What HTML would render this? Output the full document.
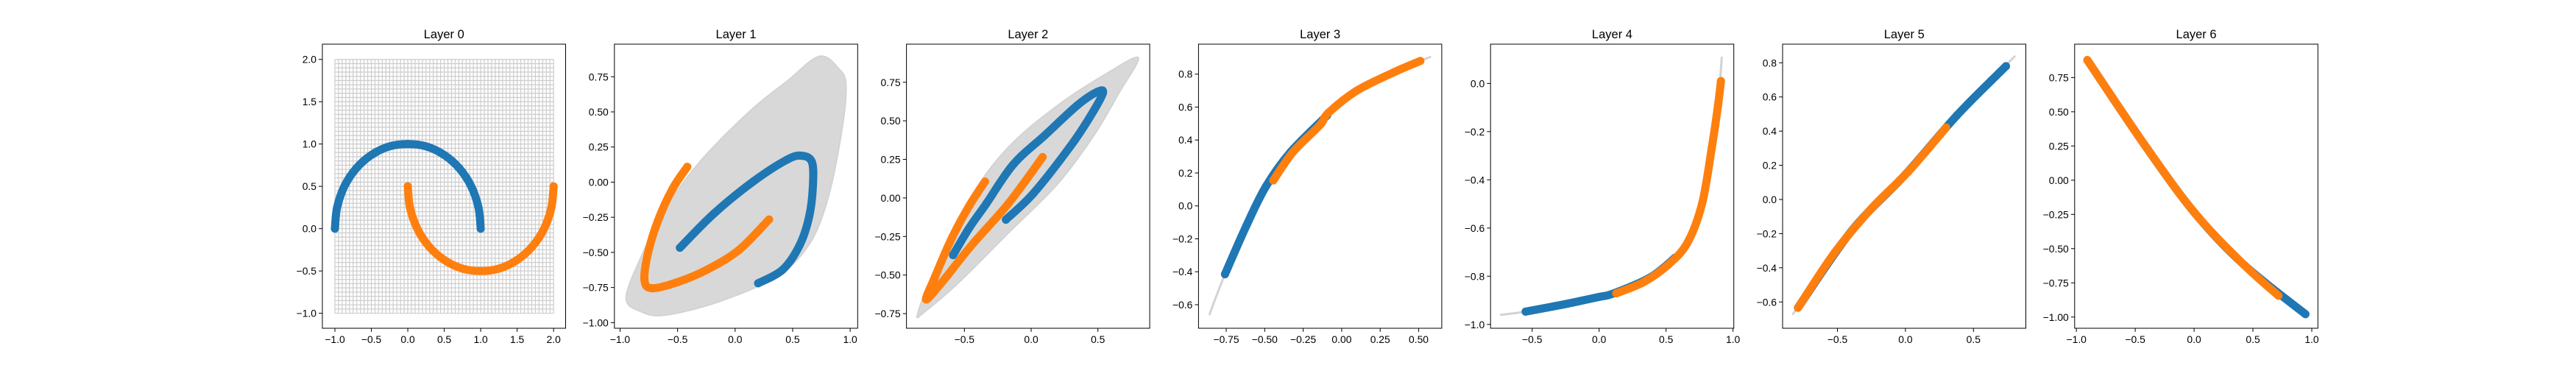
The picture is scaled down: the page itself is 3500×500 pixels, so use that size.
<!DOCTYPE html>
<html><head><meta charset="utf-8"><style>
html,body{margin:0;padding:0;background:#fff;}
svg{display:block;font-family:"Liberation Sans","DejaVu Sans",sans-serif;}
</style></head><body>
<svg id="fig" width="3500" height="500" viewBox="0 0 3500 500" xmlns="http://www.w3.org/2000/svg"></svg>
<script>
// ---- data ----
const l0Blue=[[-1,0],[-0.97,0.25],[-0.87,0.5],[-0.71,0.71],[-0.5,0.87],[-0.26,0.97],[0,1],[0.26,0.97],[0.5,0.87],[0.71,0.71],[0.87,0.5],[0.97,0.25],[1,0]];
const l0Orange=[[0,0.5],[0.03,0.25],[0.13,0],[0.29,-0.21],[0.5,-0.37],[0.74,-0.47],[1,-0.5],[1.26,-0.47],[1.5,-0.37],[1.71,-0.21],[1.87,0],[1.97,0.25],[2,0.5]];
const l1Gray=[[0.73,0.895],[0.9,0.808],[0.964,0.685],[0.921,0.336],[0.794,-0.153],[0.624,-0.467],[0.348,-0.677],[-0.14,-0.851],[-0.607,-0.947],[-0.82,-0.921],[-0.947,-0.825],[-0.82,-0.537],[-0.607,-0.188],[-0.289,0.161],[0.136,0.511],[0.454,0.72]];
const l1Blue=[[-0.48,-0.467],[-0.183,-0.223],[0.157,0.004],[0.454,0.161],[0.582,0.188],[0.667,0.144],[0.677,-0.013],[0.645,-0.24],[0.56,-0.45],[0.412,-0.624],[0.2,-0.72]];
const l1Orange=[[-0.416,0.109],[-0.544,-0.048],[-0.671,-0.275],[-0.756,-0.502],[-0.788,-0.694],[-0.724,-0.755],[-0.501,-0.712],[-0.246,-0.624],[0.03,-0.485],[0.295,-0.266]];
const l2Gray=[[0.803,0.909],[0.564,0.806],[0.197,0.599],[-0.171,0.329],[-0.447,0.01],[-0.722,-0.467],[-0.851,-0.753],[-0.796,-0.737],[-0.539,-0.546],[-0.171,-0.228],[0.197,0.09],[0.472,0.408],[0.656,0.678]];
const l2Blue=[[-0.189,-0.141],[0.013,0.026],[0.289,0.329],[0.436,0.519],[0.537,0.678],[0.491,0.686],[0.344,0.599],[0.105,0.408],[-0.134,0.217],[-0.336,-0.037],[-0.465,-0.196],[-0.585,-0.371]];
const l2Orange=[[-0.346,0.106],[-0.465,-0.053],[-0.594,-0.26],[-0.722,-0.515],[-0.787,-0.658],[-0.667,-0.546],[-0.447,-0.308],[-0.171,-0.037],[0.086,0.265]];
const l3Gray=[[-0.858,-0.657],[-0.758,-0.415],[-0.619,-0.12],[-0.492,0.118],[-0.333,0.326],[-0.094,0.55],[0.097,0.699],[0.336,0.81],[0.511,0.88],[0.575,0.904]];
const l3Blue=[[-0.758,-0.415],[-0.619,-0.12],[-0.492,0.118],[-0.333,0.326],[-0.094,0.55]];
const l3Orange=[[-0.444,0.155],[-0.317,0.326],[-0.142,0.49],[-0.086,0.565],[0.097,0.699],[0.336,0.81],[0.511,0.88]];
const l4Gray=[[-0.733,-0.96],[-0.549,-0.947],[-0.256,-0.916],[0,-0.886],[0.385,-0.804],[0.659,-0.662],[0.769,-0.499],[0.842,-0.265],[0.888,-0.092],[0.916,0.107]];
const l4Blue=[[-0.549,-0.947],[-0.256,-0.916],[0,-0.886],[0.11,-0.871],[0.385,-0.804],[0.568,-0.723]];
const l4Orange=[[0.128,-0.871],[0.33,-0.825],[0.513,-0.754],[0.659,-0.662],[0.769,-0.499],[0.842,-0.265],[0.888,-0.092],[0.91,0.01]];
const l5Gray=[[-0.826,-0.67],[-0.394,-0.182],[0.002,0.148],[0.379,0.493],[0.802,0.837]];
const l5Blue=[[-0.79,-0.634],[-0.394,-0.182],[0.002,0.148],[0.379,0.493],[0.739,0.78]];
const l5Orange=[[-0.79,-0.634],[-0.52,-0.311],[-0.25,-0.053],[0.02,0.162],[0.299,0.421]];
const l6Gray=[[-0.92,0.9],[-0.407,0.241],[0.009,-0.243],[0.426,-0.62],[0.96,-0.99]];
const l6Blue=[[-0.906,0.877],[-0.407,0.241],[0.009,-0.243],[0.426,-0.62],[0.946,-0.979]];
const l6Orange=[[-0.906,0.877],[-0.407,0.241],[0.009,-0.243],[0.426,-0.62],[0.717,-0.844]];
const xTicks=[[-1,-0.5,0,0.5,1,1.5,2],[-1,-0.5,0,0.5,1],[-0.5,0,0.5],[-0.75,-0.5,-0.25,0,0.25,0.5],[-0.5,0,0.5,1],[-0.5,0,0.5],[-1,-0.5,0,0.5,1]];
const yTicks=[[-1,-0.5,0,0.5,1,1.5,2],[-1,-0.75,-0.5,-0.25,0,0.25,0.5,0.75],[-0.75,-0.5,-0.25,0,0.25,0.5,0.75],[-0.6,-0.4,-0.2,0,0.2,0.4,0.6,0.8],[-1,-0.8,-0.6,-0.4,-0.2,0],[-0.6,-0.4,-0.2,0,0.2,0.4,0.6,0.8],[-1,-0.75,-0.5,-0.25,0,0.25,0.5,0.75]];
const xDec=[1,1,1,2,1,1,1];
const yDec=[1,2,2,1,1,1,2];
const xLims=[[-1.172,2.165],[-1.049,1.065],[-0.934,0.888],[-0.93,0.65],[-0.811,1.006],[-0.903,0.885],[-1.015,1.052]];
const yLims=[[-1.177,2.18],[-1.04,0.982],[-0.845,0.997],[-0.743,0.982],[-1.016,0.163],[-0.754,0.909],[-1.082,0.994]];
const grays=[null,l1Gray,l2Gray,l3Gray,l4Gray,l5Gray,l6Gray];
const grayFill=[false,true,true,false,false,false,false];
const blues=[l0Blue,l1Blue,l2Blue,l3Blue,l4Blue,l5Blue,l6Blue];
const oranges=[l0Orange,l1Orange,l2Orange,l3Orange,l4Orange,l5Orange,l6Orange];

// ---- drawing ----
const NS='http://www.w3.org/2000/svg';
const svg=document.getElementById('fig');
function mk(tag,attrs,parent){const e=document.createElementNS(NS,tag);for(const k in attrs)e.setAttribute(k,attrs[k]);(parent||svg).appendChild(e);return e;}
function fmt(v,d){const s=Math.abs(v).toFixed(d);return (v<0?'\u2212':'')+s;}
// Catmull-Rom smoothing of pixel points into a path
function smooth(P,closed){
  const n=P.length;const get=k=>closed?P[(k+n)%n]:P[Math.max(0,Math.min(n-1,k))];
  let d='M'+P[0][0].toFixed(1)+','+P[0][1].toFixed(1);
  const segs=closed?n:n-1;
  for(let k=0;k<segs;k++){
    const p0=get(k-1),p1=get(k),p2=get(k+1),p3=get(k+2);
    const c1=[p1[0]+(p2[0]-p0[0])/6,p1[1]+(p2[1]-p0[1])/6];
    const c2=[p2[0]-(p3[0]-p1[0])/6,p2[1]-(p3[1]-p1[1])/6];
    d+='C'+c1[0].toFixed(1)+','+c1[1].toFixed(1)+' '+c2[0].toFixed(1)+','+c2[1].toFixed(1)+' '+p2[0].toFixed(1)+','+p2[1].toFixed(1);
  }
  return d+(closed?'Z':'');
}
const TOP=60,BOT=446,W=330.5;
for(let i=0;i<7;i++){
  const L=438+i*396.8;
  const g=mk('g',{});
  
  
  const sx=v=>L+(v-xLims[i][0])/(xLims[i][1]-xLims[i][0])*W;
  const sy=v=>BOT-(v-yLims[i][0])/(yLims[i][1]-yLims[i][0])*(BOT-TOP);
  const px=a=>a.map(p=>[sx(p[0]),sy(p[1])]);
  if(i===0){
    const gg=mk('g',{stroke:'#cfcfcf','stroke-width':1.3},g);
    
    
    for(let k=0;k<=60;k++){const v=-1+k*0.05;
      mk('line',{x1:sx(v),x2:sx(v),y1:sy(-1),y2:sy(2)},gg);
      mk('line',{x1:sx(-1),x2:sx(2),y1:sy(v),y2:sy(v)},gg);}
  } else if(grayFill[i]){
    const p=mk('path',{d:smooth(px(grays[i]),true),fill:'#d8d8d8',stroke:'#d3d3d3','stroke-width':2,'stroke-linejoin':'round'},g);
    
    
  } else {
    const p=mk('path',{d:smooth(px(grays[i]),false),fill:'none',stroke:'#d3d3d3','stroke-width':3,'stroke-linecap':'round'},g);
    
    
  }
  [[blues[i],'#1f77b4','class-0-points'],[oranges[i],'#ff7f0e','class-1-points']].forEach(([arr,c,nm])=>{
    const s=mk('g',{},g);
    
    
    mk('path',{d:smooth(px(arr),false),fill:'none',stroke:c,'stroke-width':11,'stroke-linecap':'round','stroke-linejoin':'round'},s);
    arr.forEach(p=>mk('circle',{cx:sx(p[0]),cy:sy(p[1]),r:5.5,fill:c},s));
  });
  const fr=mk('rect',{x:L,y:TOP,width:W,height:BOT-TOP,fill:'none',stroke:'#000','stroke-width':1},g);
  
  
  const t=mk('text',{x:L+W/2,y:52,'font-size':16.5,'text-anchor':'middle',fill:'#000'},g);
  
  
  t.textContent='Layer '+i;
  xTicks[i].forEach(v=>{const x=sx(v);
    mk('line',{x1:x,x2:x,y1:BOT,y2:BOT+4.9,stroke:'#000','stroke-width':1},g);
    const tx=mk('text',{x:x,y:BOT+20,'font-size':13.9,'text-anchor':'middle',fill:'#000'},g);
    
    
    tx.textContent=fmt(v,xDec[i]);});
  yTicks[i].forEach(v=>{const y=sy(v);
    mk('line',{x1:L-4.9,x2:L,y1:y,y2:y,stroke:'#000','stroke-width':1},g);
    const ty=mk('text',{x:L-8,y:y+5,'font-size':13.9,'text-anchor':'end',fill:'#000'},g);
    
    
    ty.textContent=fmt(v,yDec[i]);});
}
</script>
</body></html>
